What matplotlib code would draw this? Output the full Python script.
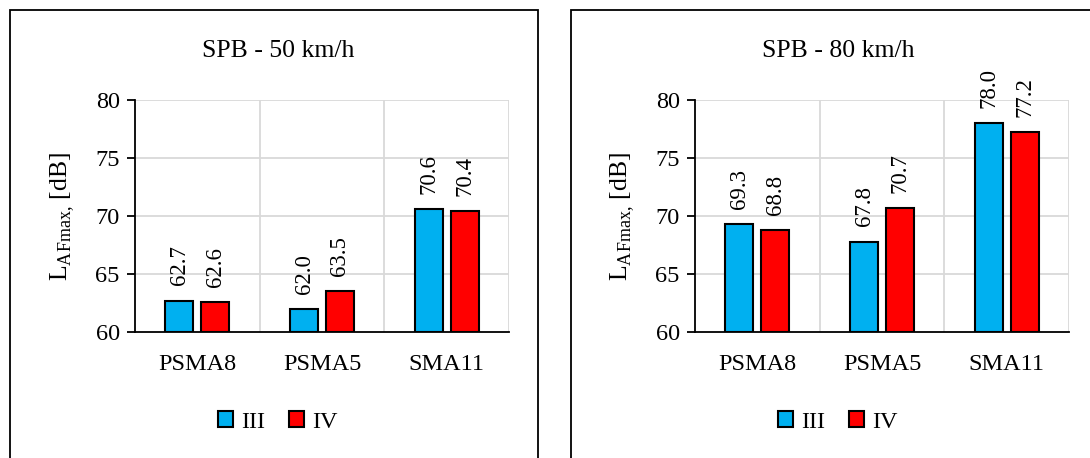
import numpy as np
import matplotlib
matplotlib.use("Agg")
import matplotlib.pyplot as plt
from matplotlib.patches import Rectangle, Patch

plt.rcParams['font.family'] = ['Liberation Serif', 'DejaVu Serif']
plt.rcParams['mathtext.fontset'] = 'custom'
plt.rcParams['mathtext.rm'] = 'Liberation Serif'

categories = ['PSMA8', 'PSMA5', 'SMA11']
series_names = ['III', 'IV']
titles = ['SPB - 50 km/h', 'SPB - 80 km/h']
vals_50 = {'III': [62.7, 62.0, 70.6], 'IV': [62.6, 63.5, 70.4]}
vals_80 = {'III': [69.3, 67.8, 78.0], 'IV': [68.8, 70.7, 77.2]}
colors = {'III': '#00B0F0', 'IV': '#FF0000'}
yticks = [60, 65, 70, 75, 80]

W, H = 1090, 458
fig = plt.figure(figsize=(W / 100, H / 100), dpi=100)


def px(x0, y0, w, h):
    # pixel box (top-left origin) -> figure fraction
    return [x0 / W, 1 - (y0 + h) / H, w / W, h / H]


# panel frames
for (x0, x1) in [(10, 538), (571, 1100)]:
    fig.patches.append(Rectangle((x0 / W, -0.05), (x1 - x0) / W, 1 - 10 / H + 0.05,
                                 transform=fig.transFigure, fill=False,
                                 edgecolor='black', linewidth=1.3))

panels = [
    (vals_50, titles[0], 135, 278),
    (vals_80, titles[1], 695, 838),
]
ax_w = 374

for data, title, ax_x, cx in panels:
    ax = fig.add_axes(px(ax_x, 100, ax_w, 232))
    x = np.arange(len(categories))
    bw, gap = 0.224, 0.064
    for k, name in enumerate(series_names):
        off = (k - 0.5) * (bw + gap)
        ax.bar(x + off, np.array(data[name]) - 60, bw, bottom=60,
               color=colors[name], edgecolor='black', linewidth=1.5, zorder=3)
        for xi, v in zip(x + off, data[name]):
            ax.annotate(f'{v:.1f}', (xi, v), xytext=(0, 11), textcoords='offset points',
                        rotation=90, ha='center', va='bottom', fontsize=16.5, zorder=4)
    ax.set_xlim(-0.5, 2.5)
    ax.set_ylim(60, 80)
    ax.set_yticks(yticks)
    ax.set_xticks(x)
    ax.set_xticklabels(categories, fontsize=17.5)
    ax.tick_params(axis='x', length=0, pad=16)
    ax.tick_params(axis='y', length=6, width=1.3, labelsize=17.5, pad=5, direction='out')
    for yv in yticks[1:]:
        ax.axhline(yv, color='#D9D9D9', linewidth=1.3, zorder=0)
    for xv in [0.5, 1.5, 2.5]:
        ax.axvline(xv, color='#D9D9D9', linewidth=1.3, zorder=0)
    for s in ['top', 'right']:
        ax.spines[s].set_visible(False)
    ax.spines['left'].set_linewidth(1.3)
    ax.spines['bottom'].set_linewidth(1.3)
    ax.set_ylabel(r'L$_{\mathregular{AFmax{,}}}$ [dB]', fontsize=18.5)
    ax.yaxis.set_label_coords(-58 / ax_w, 0.5)
    fig.text(cx / W, 1 - 51 / H, title, ha='center', va='center', fontsize=18.5)
    handles = [Patch(facecolor=colors[n], edgecolor='black', linewidth=1.5) for n in series_names]
    fig.legend(handles, series_names, loc='center', bbox_to_anchor=(cx / W, 1 - 422 / H),
               ncol=2, frameon=False, fontsize=17.5, handlelength=0.6, handleheight=0.6,
               handletextpad=0.35, columnspacing=1.0)

fig.savefig('out.png', dpi=100)
